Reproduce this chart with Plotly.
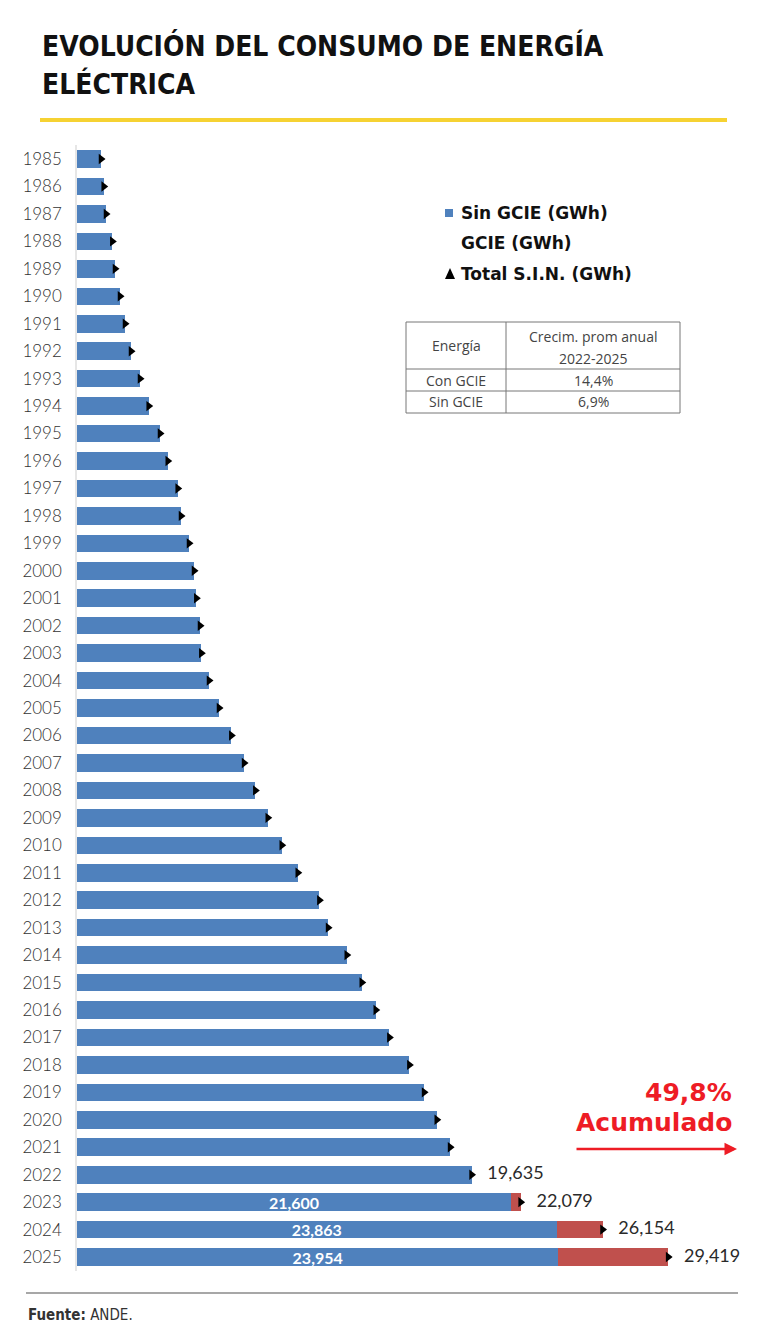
import plotly.graph_objects as go

# ---------------- data ----------------
years = list(range(1985, 2026))
sin_gcie = [1195, 1329, 1443, 1757, 1891, 2140, 2389, 2688, 3136, 3569,
            4131, 4515, 5012, 5177, 5575, 5824, 5938, 6122, 6187, 6570,
            7068, 7680, 8313, 8875, 9493, 10189, 10986, 12061, 12494, 13425,
            14171, 14868, 15545, 16541, 17272, 17905, 18567, 19635, 21600, 23863,
            23954]
gcie_years = [2023, 2024, 2025]
gcie = [479, 2291, 5465]
total_sin = [1195, 1329, 1443, 1757, 1891, 2140, 2389, 2688, 3136, 3569,
             4131, 4515, 5012, 5177, 5575, 5824, 5938, 6122, 6187, 6570,
             7068, 7680, 8313, 8875, 9493, 10189, 10986, 12061, 12494, 13425,
             14171, 14868, 15545, 16541, 17272, 17905, 18567, 19635, 22079, 26154,
             29419]
total_label_years = [2022, 2023, 2024, 2025]
inside_label_years = [2023, 2024, 2025]

table_header = ["Energía", "Crecim. prom anual", "2022-2025"]
table_col1 = ["Con GCIE", "Sin GCIE"]
table_col2 = ["14,4%", "6,9%"]

legend_labels = ["Sin GCIE (GWh)", "GCIE (GWh)", "Total S.I.N. (GWh)"]

title_lines = ["EVOLUCIÓN DEL CONSUMO DE ENERGÍA", "ELÉCTRICA"]
acum_pct = "49,8%"
acum_text = "Acumulado"
source = "<b>Fuente:</b> ANDE."

BLUE = "#4F81BD"
RED = "#C0504D"
BRIGHT_RED = "#EE1C25"

W, H = 770, 1344


def px(x):
    return x / W


def py(y):
    return 1 - y / H


def fmt(v):
    return f"{v:,}"


# ---------------- traces ----------------
fig = go.Figure()

fig.add_trace(go.Bar(
    y=years, x=sin_gcie, orientation="h", name="Sin GCIE (GWh)",
    marker=dict(color=BLUE, line=dict(width=0)),
    text=[fmt(v) if y in inside_label_years else "" for y, v in zip(years, sin_gcie)],
    textposition="inside", insidetextanchor="middle", textangle=0, constraintext="none",
    textfont=dict(family="Lato", size=16, color="white", weight="bold"),
    hoverinfo="skip",
))
fig.add_trace(go.Bar(
    y=gcie_years, x=gcie, orientation="h", name="GCIE (GWh)",
    marker=dict(color=RED, line=dict(width=0)), hoverinfo="skip",
))
fig.add_trace(go.Scatter(
    y=years, x=total_sin, mode="markers+text", name="Total S.I.N. (GWh)",
    marker=dict(symbol="triangle-right", size=9, color="black"),
    text=["  " + fmt(v) if y in total_label_years else "" for y, v in zip(years, total_sin)],
    textposition="middle right",
    textfont=dict(family="Lato", size=18, color="#2a2a2a", weight="normal"),
    hoverinfo="skip", cliponaxis=False,
))

# ---------------- layout ----------------
fig.update_layout(
    width=W, height=H,
    margin=dict(l=0, r=0, t=0, b=0),
    paper_bgcolor="white", plot_bgcolor="white",
    barmode="stack", bargap=0.36, showlegend=False,
    xaxis=dict(domain=[px(77), px(720)], range=[0, 32000],
               showgrid=False, zeroline=False, showticklabels=False,
               showline=False, automargin=False),
    yaxis=dict(domain=[py(1270.8), py(145.3)], range=[2025.5, 1984.5],
               tickmode="array", tickvals=years, ticktext=[str(y) for y in years],
               ticks="", ticklabelstandoff=10,
               tickfont=dict(family="Lato", size=17, color="#333333", weight=300),
               showgrid=False, zeroline=False, showline=True,
               linecolor="#e6e6e6", linewidth=1.5, automargin=False),
)

ann = []
shapes = []


def text_ann(x, y, text, font, xanchor="center", yanchor="middle"):
    return dict(x=px(x), y=py(y), xref="paper", yref="paper", xanchor=xanchor,
                yanchor=yanchor, text=text, showarrow=False, font=font)


# title
title_font = dict(family="DejaVu Sans Condensed, DejaVu Sans, sans-serif",
                  size=28, color="#111111", weight="bold")
ann.append(text_ann(40, 46, title_lines[0], title_font, xanchor="left"))
ann.append(text_ann(40, 84, title_lines[1], title_font, xanchor="left"))
shapes.append(dict(type="line", xref="paper", yref="paper", x0=px(40), x1=px(727),
                   y0=py(120), y1=py(120), line=dict(color="#F6D232", width=4)))

# legend
legend_y = [213, 243, 274]
shapes.append(dict(type="rect", xref="paper", yref="paper", x0=px(445), x1=px(453),
                   y0=py(217), y1=py(209), fillcolor=BLUE, line=dict(width=0)))
shapes.append(dict(type="path", xref="paper", yref="paper",
                   path=f"M {px(445)},{py(279)} L {px(455)},{py(279)} L {px(450)},{py(268)} Z",
                   fillcolor="black", line=dict(width=0)))
leg_font = dict(family="DejaVu Sans", size=17, color="#111111", weight="bold")
for lbl, yy in zip(legend_labels, legend_y):
    ann.append(text_ann(459, yy, lbl, leg_font, xanchor="left"))

# table
tx = [406, 506, 680]
ty = [322, 369, 391, 413]
for x in tx:
    shapes.append(dict(type="line", xref="paper", yref="paper", x0=px(x), x1=px(x),
                       y0=py(ty[0]), y1=py(ty[-1]), line=dict(color="#777777", width=1)))
for y in ty:
    shapes.append(dict(type="line", xref="paper", yref="paper", x0=px(tx[0]), x1=px(tx[-1]),
                       y0=py(y), y1=py(y), line=dict(color="#777777", width=1)))
tfont = dict(family="Open Sans", size=14, color="#444444")
ann.append(text_ann(456, 346, table_header[0], tfont))
ann.append(text_ann(593, 336, table_header[1], tfont))
ann.append(text_ann(593, 358, table_header[2], tfont))
row_y = [380, 402]
for c1, c2, yy in zip(table_col1, table_col2, row_y):
    ann.append(text_ann(456, yy, c1, tfont))
    ann.append(text_ann(593, yy, c2, tfont))

# accumulated annotation
afont = dict(family="DejaVu Sans", size=25, color=BRIGHT_RED, weight="bold")
ann.append(text_ann(734, 1092, acum_pct, afont, xanchor="right"))
ann.append(text_ann(734, 1122, acum_text, afont, xanchor="right"))
ann.append(dict(x=px(737), y=py(1149), xref="paper", yref="paper", text="",
                showarrow=True, axref="pixel", ayref="pixel", ax=-162, ay=0,
                arrowhead=2, arrowsize=1, arrowwidth=2.5, arrowcolor=BRIGHT_RED))

# footer
shapes.append(dict(type="line", xref="paper", yref="paper", x0=px(26), x1=px(738),
                   y0=py(1293), y1=py(1293), line=dict(color="#8a8a8a", width=1.5)))
ann.append(text_ann(26, 1315, source,
                    dict(family="DejaVu Sans Condensed, DejaVu Sans, sans-serif",
                         size=15, color="#333333"), xanchor="left"))

fig.update_layout(annotations=ann, shapes=shapes)

fig.write_html("out.html", config={"displayModeBar": False},
               post_script="document.body.style.margin='0px';document.body.style.overflow='hidden';")
